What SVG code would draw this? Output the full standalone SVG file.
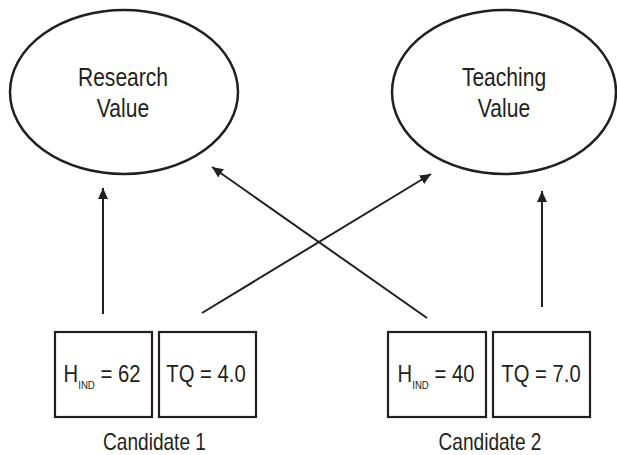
<svg xmlns="http://www.w3.org/2000/svg" width="617" height="455" viewBox="0 0 617 455">
  <style>
    .lbl { font-family: "Liberation Sans", Arial, sans-serif; fill: #231f20; }
    .big { font-size: 26px; text-anchor: middle; }
    .box { font-size: 23px; text-anchor: middle; }
    .sub { font-size: 11px; }
    .cand { font-size: 23px; text-anchor: middle; }
    .shape { fill: #ffffff; stroke: #231f20; stroke-width: 2.5; }
    .rect { fill: #ffffff; stroke: #231f20; stroke-width: 2.2; }
    .conn { fill: none; stroke: #231f20; stroke-width: 2; }
  </style>
  <defs>
    <marker id="arrow" markerUnits="userSpaceOnUse" markerWidth="12" markerHeight="12" viewBox="0 0 12 12" refX="11" refY="6" orient="auto">
      <path d="M0,1 L11,6 L0,11 Z" fill="#231f20"/>
    </marker>
  </defs>
  <rect width="617" height="455" fill="#ffffff"/>

  <g id="research-value">
    <ellipse class="shape" cx="124" cy="92" rx="114" ry="82"/>
    <text class="lbl big" transform="translate(123,86) scale(0.81,1)">Research</text>
    <text class="lbl big" transform="translate(123,117) scale(0.81,1)">Value</text>
  </g>

  <g id="teaching-value">
    <ellipse class="shape" cx="504" cy="92" rx="112" ry="82"/>
    <text class="lbl big" transform="translate(504,86) scale(0.81,1)">Teaching</text>
    <text class="lbl big" transform="translate(504,117) scale(0.81,1)">Value</text>
  </g>

  <g id="connectors">
    <line class="conn" x1="103" y1="314" x2="103" y2="188" marker-end="url(#arrow)"/>
    <line class="conn" x1="202" y1="313" x2="431" y2="174" marker-end="url(#arrow)"/>
    <line class="conn" x1="427" y1="318" x2="212" y2="167" marker-end="url(#arrow)"/>
    <line class="conn" x1="542" y1="307" x2="542" y2="191" marker-end="url(#arrow)"/>
  </g>

  <g id="c1-hind">
    <rect class="rect" x="55" y="332" width="97" height="85"/>
    <text class="lbl box" transform="translate(102,382) scale(0.88,1)">H<tspan class="sub" dy="7">IND</tspan><tspan dy="-7"> = 62</tspan></text>
  </g>
  <g id="c1-tq">
    <rect class="rect" x="159" y="332" width="97" height="85"/>
    <text class="lbl box" transform="translate(206,382) scale(0.88,1)">TQ = 4.0</text>
  </g>
  <g id="c2-hind">
    <rect class="rect" x="388" y="332" width="98" height="85"/>
    <text class="lbl box" transform="translate(436,382) scale(0.88,1)">H<tspan class="sub" dy="7">IND</tspan><tspan dy="-7"> = 40</tspan></text>
  </g>
  <g id="c2-tq">
    <rect class="rect" x="493" y="332" width="97" height="85"/>
    <text class="lbl box" transform="translate(541,382) scale(0.88,1)">TQ = 7.0</text>
  </g>

  <g id="candidate-labels">
    <text class="lbl cand" transform="translate(154.5,450) scale(0.83,1)">Candidate 1</text>
    <text class="lbl cand" transform="translate(490,450) scale(0.83,1)">Candidate 2</text>
  </g>
</svg>
